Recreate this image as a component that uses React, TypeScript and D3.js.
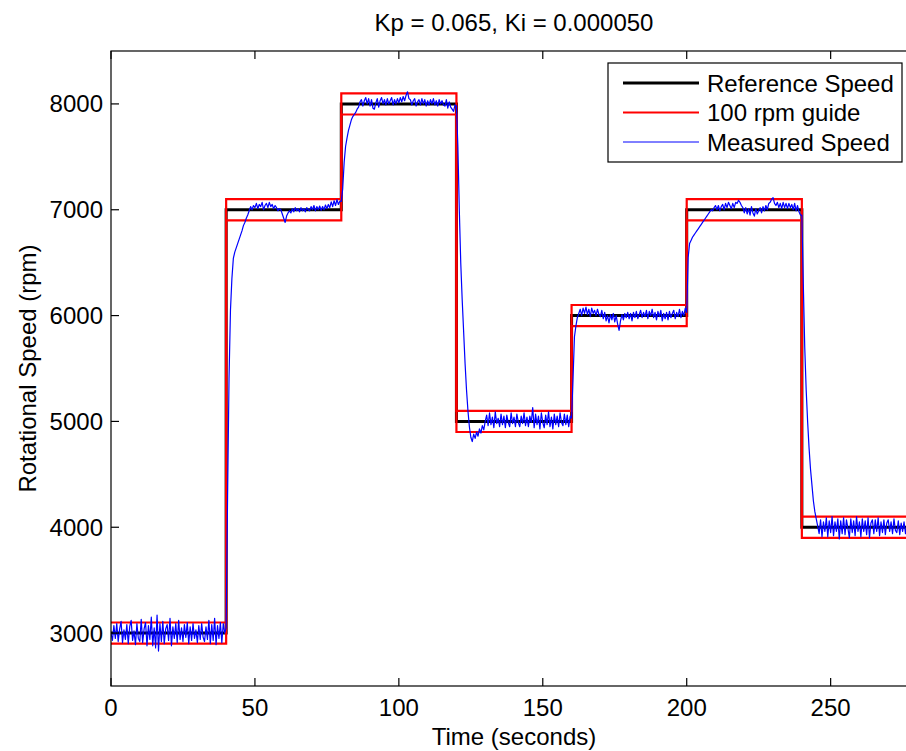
import { useEffect, useRef } from 'react'
import * as d3 from 'd3'

const WIDTH = 906
const HEIGHT = 751
const PLOT = { left: 111, top: 51, right: 917, bottom: 686 }
const FONT = '"Liberation Sans", Arial, Helvetica, sans-serif'

const TITLE = 'Kp = 0.065, Ki = 0.000050'
const X_LABEL = 'Time (seconds)'
const Y_LABEL = 'Rotational Speed (rpm)'

const X_DOMAIN = [0, 280]
const Y_DOMAIN = [2500, 8500]
const X_TICKS = [0, 50, 100, 150, 200, 250]
const Y_TICKS = [3000, 4000, 5000, 6000, 7000, 8000]

// reference speed steps
const STEP_TIMES = [0, 40, 80, 120, 160, 200, 240, 280]
const REF_LEVELS = [3000, 7000, 8000, 5000, 6000, 7000, 4000]
const GUIDE_BAND = 100

const SAMPLE_DT = 0.5
// measured speed, one sample every 0.5 s
const MEASURED = [
  // 0 - 40 s
  3000, 2930, 3070, 2950, 3090, 2920, 3040, 3110, 2910, 3030,
  2940, 3080, 2900, 3060, 3120, 2930, 3020, 2890, 3090, 2950,
  2920, 3130, 2910, 3040, 3100, 2880, 3070, 2940, 3150, 2880,
  3050, 2860, 3170, 2830, 3090, 2920, 3110, 2900, 3040, 3080,
  2930, 3140, 2880, 3060, 2950, 3090, 2910, 3120, 2940, 3050,
  2920, 3080, 2960, 3100, 2900, 3060, 2930, 3090, 2950, 3030,
  2910, 3070, 2940, 3090, 2960, 2920, 3060, 2940, 3120, 2900,
  3080, 2930, 3140, 2890, 3070, 2950, 3100, 2910, 3090, 3000,
  // 40 - 80 s
  3050, 4300, 5400, 6050, 6350, 6540, 6600, 6640, 6680, 6720,
  6760, 6800, 6850, 6880, 6920, 6950, 6990, 7030, 7000, 7040,
  7020, 7060, 7010, 7050, 7030, 7070, 7000, 7040, 7060, 7020,
  7070, 7030, 7050, 7010, 7040, 7020, 6990, 7010, 7000, 6960,
  6920, 6880, 6940, 6970, 6990, 6970, 7010, 6980, 7020, 6990,
  7010, 6980, 7020, 6990, 7010, 6980, 7020, 7000, 6990, 7030,
  7000, 7040, 6990, 7030, 7000, 7035, 6995, 7030, 7000, 7045,
  7010, 7050, 7020, 7075, 7030, 7085, 7040, 7095, 7050, 7080,
  // 80 - 120 s
  7080, 7200, 7450, 7600, 7680, 7750, 7800, 7850, 7880, 7900,
  7920, 7950, 7970, 8020, 8040, 7980, 8030, 8060, 8000, 8050,
  7980, 8040, 7960, 7950, 8010, 8050, 7970, 8030, 8060, 8000,
  8040, 7990, 8050, 8000, 8030, 8060, 7990, 8040, 8000, 8050,
  8010, 8060, 8020, 8070, 8030, 8080, 8115, 8050, 8040, 7990,
  8030, 8050, 7980, 8020, 8040, 7990, 8050, 8000, 8040, 7980,
  8030, 7990, 8040, 8000, 8050, 7990, 8030, 7980, 8040, 8000,
  8030, 7990, 7980, 8040, 7960, 8020, 7970, 7950, 7930, 7990,
  // 120 - 160 s
  7980, 7600, 7000, 6500, 6150, 5850, 5550, 5300, 5100, 4950,
  4850, 4810, 4880, 4840, 4900, 4860, 4930, 4890, 4960, 4920,
  5000, 5060, 4960, 5080, 4970, 5040, 4940, 5090, 4980, 5030,
  4950, 5070, 4970, 5050, 4940, 5060, 4990, 4950, 5080, 4980,
  5040, 4950, 5070, 4990, 4950, 5050, 4980, 5080, 4960, 5040,
  4950, 5050, 4990, 5130, 4940, 5070, 4970, 5050, 4930, 5080,
  4990, 4940, 5060, 4970, 5090, 4950, 5040, 4930, 5070, 4970,
  5050, 4950, 5080, 4990, 4960, 5070, 4970, 5060, 4950, 5050,
  // 160 - 200 s
  5030, 5400, 5800, 5900, 5980, 6020, 6060, 6000, 6070, 6020,
  6080, 6010, 6060, 5990, 6070, 6020, 6050, 6000, 6060, 6010,
  5990, 6050, 5970, 6030, 5950, 6000, 5930, 6010, 5960, 6020,
  5940, 6000, 5920, 5860, 5950, 6010, 5960, 6020, 5980, 6030,
  5970, 6020, 5950, 6030, 5980, 6040, 5970, 6010, 6050, 5980,
  6030, 5990, 6050, 5970, 6040, 6000, 6060, 5980, 6030, 5960,
  6040, 5990, 6050, 5950, 6020, 5970, 6030, 5960, 6040, 5980,
  6020, 6050, 5970, 6030, 5990, 6060, 5980, 6040, 6000, 6070,
  // 200 - 240 s
  6030, 6550, 6680, 6710, 6740, 6760, 6780, 6800, 6820, 6840,
  6860, 6880, 6900, 6920, 6940, 6960, 6980, 7000, 6990, 7020,
  7040, 7000, 7040, 6990, 7030, 7050, 7000, 7060, 7020, 7070,
  7040, 7010, 7060, 7020, 7070, 7060, 7090, 7070, 7040, 7020,
  6970, 7020, 6960, 7010, 6950, 7030, 6970, 6940, 7010, 6960,
  6990, 7020, 6970, 7030, 6990, 7040, 7000, 7060, 7070, 7100,
  7115, 7060, 7040, 7070, 7020, 7060, 7010, 7070, 7020, 7060,
  7010, 7060, 7020, 7050, 7000, 7060, 6990, 7040, 6980, 6950,
  // 240 - 280 s
  6950, 6300, 5700, 5300, 5000, 4750, 4550, 4400, 4250, 4150,
  4080, 4010, 3940, 4070, 3910, 4050, 3960, 4090, 3910, 4060,
  3950, 4100, 3920, 4050, 3960, 4080, 3890, 4060, 3940, 4090,
  3930, 4070, 3990, 3900, 4080, 3950, 4060, 3920, 4100, 3960,
  4050, 3910, 4080, 3960, 4060, 3930, 4090, 3900, 4040, 4070,
  3940, 4070, 3960, 4090, 3920, 4050, 3950, 4070, 3930, 4040,
  4070, 3960, 4050, 3940, 4080, 3970, 3950, 4060, 3930, 4040,
  3960, 4050, 3940, 4030, 4060, 3950, 4040, 3930, 4020, 4050,
]

const LEGEND = [
  { label: 'Reference Speed', color: '#000000', width: 3 },
  { label: '100 rpm guide', color: '#ff0000', width: 2 },
  { label: 'Measured Speed', color: '#0000ff', width: 1 },
]

function stairs(levels: number[], offset: number) {
  const pts = levels.map((v, i) => [STEP_TIMES[i], v + offset])
  pts.push([STEP_TIMES[STEP_TIMES.length - 1], levels[levels.length - 1] + offset])
  return pts
}

export default function App() {
  const svgRef = useRef<SVGSVGElement>(null)

  useEffect(() => {
    const svg = d3.select(svgRef.current)
    svg.selectAll('*').remove()

    const x = d3.scaleLinear().domain(X_DOMAIN).range([PLOT.left, PLOT.right])
    const y = d3.scaleLinear().domain(Y_DOMAIN).range([PLOT.bottom, PLOT.top])

    svg
      .append('rect')
      .attr('width', WIDTH)
      .attr('height', HEIGHT)
      .attr('fill', '#fff')

    svg
      .append('defs')
      .append('clipPath')
      .attr('id', 'plot-clip')
      .append('rect')
      .attr('x', PLOT.left)
      .attr('y', PLOT.top)
      .attr('width', PLOT.right - PLOT.left)
      .attr('height', PLOT.bottom - PLOT.top)

    const data = svg.append('g').attr('clip-path', 'url(#plot-clip)')

    const stepLine = d3
      .line<number[]>()
      .x((d) => x(d[0]))
      .y((d) => y(d[1]))
      .curve(d3.curveStepAfter)

    data
      .append('path')
      .attr('d', stepLine(stairs(REF_LEVELS, 0)))
      .attr('fill', 'none')
      .attr('stroke', '#000')
      .attr('stroke-width', 3)

    for (const off of [GUIDE_BAND, -GUIDE_BAND]) {
      data
        .append('path')
        .attr('d', stepLine(stairs(REF_LEVELS, off)))
        .attr('fill', 'none')
        .attr('stroke', '#ff0000')
        .attr('stroke-width', 2.2)
    }

    const measuredLine = d3
      .line<number>()
      .x((_, i) => x(i * SAMPLE_DT))
      .y((d) => y(d))

    data
      .append('path')
      .attr('d', measuredLine(MEASURED))
      .attr('fill', 'none')
      .attr('stroke', '#0000ff')
      .attr('stroke-width', 1.2)
      .attr('stroke-linejoin', 'round')

    // axes box
    const box = svg.append('g').attr('stroke', '#000').attr('stroke-width', 1.2).attr('fill', 'none')
    box
      .append('rect')
      .attr('x', PLOT.left)
      .attr('y', PLOT.top)
      .attr('width', PLOT.right - PLOT.left)
      .attr('height', PLOT.bottom - PLOT.top)

    const TICK = 8
    X_TICKS.forEach((t) => {
      box.append('line').attr('x1', x(t)).attr('x2', x(t)).attr('y1', PLOT.bottom).attr('y2', PLOT.bottom - TICK)
      box.append('line').attr('x1', x(t)).attr('x2', x(t)).attr('y1', PLOT.top).attr('y2', PLOT.top + TICK)
    })
    Y_TICKS.forEach((t) => {
      box.append('line').attr('x1', PLOT.left).attr('x2', PLOT.left + TICK).attr('y1', y(t)).attr('y2', y(t))
      box.append('line').attr('x1', PLOT.right).attr('x2', PLOT.right - TICK).attr('y1', y(t)).attr('y2', y(t))
    })

    const text = svg.append('g').attr('font-family', FONT).attr('font-size', 24).attr('fill', '#000')

    text
      .selectAll('text.xt')
      .data(X_TICKS)
      .join('text')
      .attr('x', (d) => x(d))
      .attr('y', 716)
      .attr('text-anchor', 'middle')
      .text((d) => String(d))

    text
      .selectAll('text.yt')
      .data(Y_TICKS)
      .join('text')
      .attr('class', 'yt')
      .attr('x', 103)
      .attr('y', (d) => y(d) + 8.5)
      .attr('text-anchor', 'end')
      .text((d) => String(d))

    text
      .append('text')
      .attr('x', (PLOT.left + PLOT.right) / 2)
      .attr('y', 31)
      .attr('text-anchor', 'middle')
      .text(TITLE)

    text
      .append('text')
      .attr('x', (PLOT.left + PLOT.right) / 2)
      .attr('y', 745)
      .attr('text-anchor', 'middle')
      .text(X_LABEL)

    text
      .append('text')
      .attr('transform', `translate(36,${(PLOT.top + PLOT.bottom) / 2}) rotate(-90)`)
      .attr('text-anchor', 'middle')
      .text(Y_LABEL)

    // legend
    const lg = svg.append('g')
    lg.append('rect')
      .attr('x', 608)
      .attr('y', 63)
      .attr('width', 294)
      .attr('height', 99)
      .attr('fill', '#fff')
      .attr('stroke', '#000')
      .attr('stroke-width', 1.2)
    LEGEND.forEach((item, i) => {
      const cy = 83 + i * 29.5
      lg.append('line')
        .attr('x1', 623)
        .attr('x2', 699)
        .attr('y1', cy)
        .attr('y2', cy)
        .attr('stroke', item.color)
        .attr('stroke-width', item.width)
      lg.append('text')
        .attr('x', 707)
        .attr('y', cy + 8.5)
        .attr('font-family', FONT)
        .attr('font-size', 24)
        .text(item.label)
    })
  }, [])

  return (
    <svg
      ref={svgRef}
      width={WIDTH}
      height={HEIGHT}
      style={{ position: 'absolute', left: 0, top: 0, display: 'block' }}
    />
  )
}
